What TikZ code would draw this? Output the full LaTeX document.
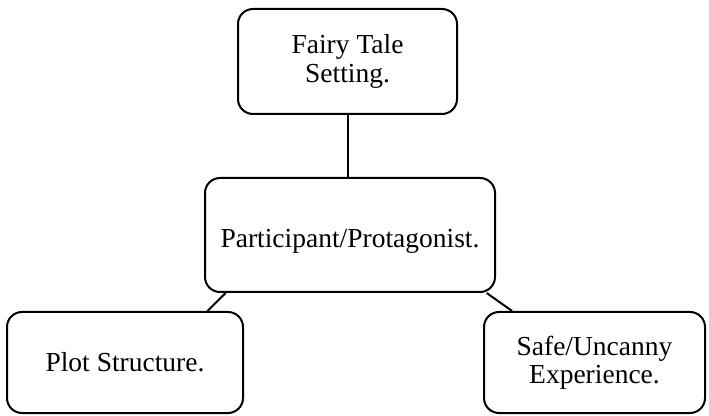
\documentclass[tikz,border=0pt]{standalone}
\usepackage{fontspec}
\setmainfont{Liberation Serif}

\begin{document}
\begin{tikzpicture}[x=1pt,y=1pt,rounded corners=15pt,line width=2pt,
  box/.style={draw,align=center,inner sep=0pt,font=\fontsize{27.5}{28.5}\selectfont}]
\useasboundingbox (0,0) rectangle (709,415);
\draw node[box,minimum height=105pt,minimum width=219pt] (setting) at (347.5,353.5) {Fairy Tale\\ Setting.};
\draw node[box,minimum height=114pt,minimum width=290pt,text height=31pt,text depth=6pt] (hero) at (350,180) {Participant/Protagonist.};
\draw node[box,minimum height=101pt,minimum width=236pt] (plot) at (125,52.5) {Plot Structure.};
\draw node[box,minimum height=101pt,minimum width=221pt] (safe) at (594.5,52.5) {Safe/Uncanny\\ Experience.};
\draw (hero.north -| setting.south) -- (setting.south);
\draw (hero.205.8) -- (plot.32.9);
\draw (hero.-23.7) -- (safe.148.2);
\end{tikzpicture}
\end{document}
